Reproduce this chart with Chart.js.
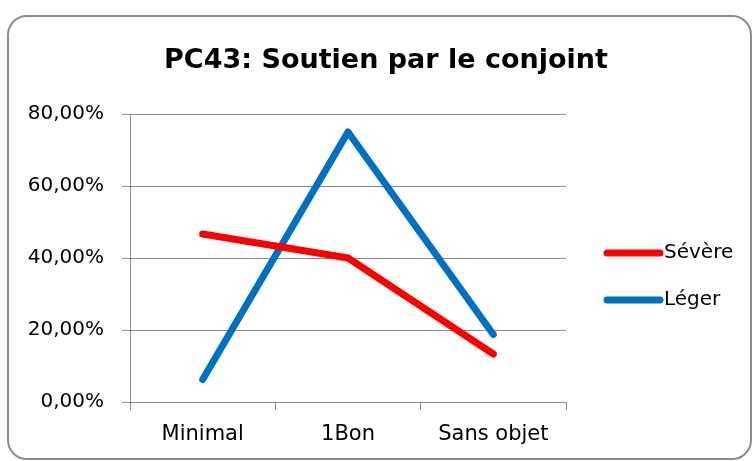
<!DOCTYPE html>
<html>
<head>
<meta charset="utf-8">
<script src="https://cdn.jsdelivr.net/npm/chart.js@4"></script>
<style>
  body { margin: 0; background: #fff; }
  #frame {
    position: absolute; left: 7px; top: 15px;
    width: 741px; height: 441px;
    border: 2px solid #8c8c8c; border-radius: 20px;
  }
  #wrap { position: absolute; left: 0; top: 0; width: 753px; height: 461px; }
</style>
</head>
<body>
<div id="frame"></div>
<div id="wrap"><canvas id="chart" width="753" height="461"></canvas></div>
<script>
// Données du graphique
const categories = ['Minimal', '1Bon', 'Sans objet']
const severe = [46.67, 40.0, 13.33]
const leger = [6.25, 75.0, 18.75]
const yTicks = [0, 20, 40, 60, 80]
const chartTitle = 'PC43: Soutien par le conjoint'

const FONT = '"DejaVu Sans", sans-serif'
const GRID = '#8c8c8c'

// Titre et légende dessinés à la main, pour coller au rendu Excel
const excelPlugin = {
  id: 'excelDecor',
  afterDraw(chart) {
    const ctx = chart.ctx
    ctx.save()
    ctx.fillStyle = '#000'
    ctx.font = 'bold 27px ' + FONT
    ctx.textAlign = 'center'
    ctx.textBaseline = 'middle'
    ctx.fillText(chartTitle, 386, 61)

    const rows = [253, 300]
    ctx.textAlign = 'left'
    chart.data.datasets.forEach((ds, i) => {
      const y = rows[i]
      ctx.strokeStyle = ds.borderColor
      ctx.lineWidth = 7
      ctx.lineCap = 'round'
      ctx.beginPath()
      ctx.moveTo(607, y)
      ctx.lineTo(660, y)
      ctx.stroke()
      ctx.font = '20px ' + FONT
      ctx.fillText(ds.label, 664, y)
    })
    ctx.restore()
  }
}

const lineStyle = {
  borderWidth: 7,
  pointRadius: 0,
  tension: 0,
  borderJoinStyle: 'round',
  borderCapStyle: 'round'
}

new Chart(document.getElementById('chart'), {
  type: 'line',
  data: {
    labels: categories,
    datasets: [
      { label: 'Sévère', data: severe, borderColor: '#ff0000', backgroundColor: '#ff0000', ...lineStyle },
      { label: 'Léger', data: leger, borderColor: '#0070c0', backgroundColor: '#0070c0', ...lineStyle }
    ]
  },
  plugins: [excelPlugin],
  options: {
    responsive: false,
    animation: false,
    layout: { padding: { left: 0, right: 187, top: 114, bottom: 0 } },
    plugins: {
      legend: { display: false },
      tooltip: { enabled: false },
      title: { display: false }
    },
    scales: {
      x: {
        offset: true,
        grid: {
          offset: true,
          drawOnChartArea: false,
          drawTicks: true,
          tickLength: 8,
          tickColor: GRID,
          color: GRID
        },
        border: { color: GRID, width: 1 },
        ticks: {
          color: '#000',
          padding: 12,
          font: { family: FONT, size: 21 }
        },
        afterFit: (scale) => { scale.height = 59 }
      },
      y: {
        min: 0,
        max: 80,
        afterBuildTicks: (scale) => { scale.ticks = yTicks.map((v) => ({ value: v })) },
        grid: {
          color: GRID,
          tickColor: GRID,
          tickLength: 8
        },
        border: { color: GRID, width: 1 },
        ticks: {
          color: '#000',
          padding: 18,
          font: { family: FONT, size: 20 },
          callback: (v) => v.toFixed(2).replace('.', ',') + '%'
        },
        afterFit: (scale) => { scale.width = 130 }
      }
    }
  }
})
</script>
</body>
</html>
